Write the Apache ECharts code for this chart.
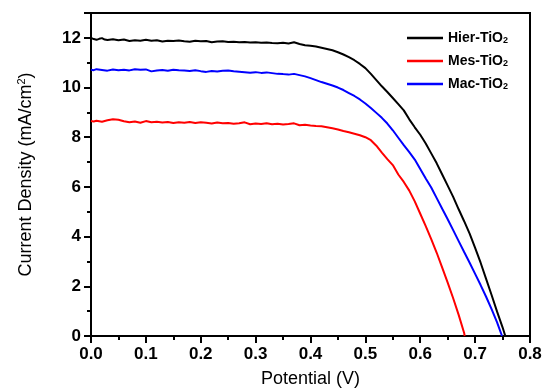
<!DOCTYPE html>
<html><head><meta charset="utf-8">
<script src="https://cdn.jsdelivr.net/npm/echarts@6/dist/echarts.min.js"></script>
<style>html,body{margin:0;padding:0;background:#fff}#c{width:543px;height:389px}</style>
</head><body><div id="c"></div>
<script>
// Hier-TiO2 (black)
const hierV = [0.000,0.005,0.010,0.015,0.020,0.025,0.030,0.040,0.050,0.060,0.070,0.080,0.090,0.100,0.110,0.120,0.130,0.140,0.150,0.160,0.170,0.180,0.190,0.200,0.210,0.220,0.230,0.240,0.250,0.260,0.270,0.280,0.290,0.300,0.310,0.320,0.330,0.340,0.350,0.360,0.370,0.380,0.390,0.400,0.410,0.420,0.430,0.440,0.450,0.460,0.470,0.480,0.490,0.500,0.510,0.520,0.530,0.540,0.550,0.560,0.570,0.580,0.590,0.600,0.610,0.620,0.630,0.640,0.650,0.660,0.670,0.680,0.690,0.700,0.710,0.720,0.730,0.740,0.750,0.755];
const hierJ = [12.00,11.95,11.92,11.96,11.99,11.93,11.91,11.94,11.90,11.93,11.87,11.90,11.88,11.92,11.88,11.90,11.85,11.88,11.87,11.89,11.86,11.84,11.88,11.86,11.87,11.82,11.85,11.86,11.83,11.84,11.82,11.83,11.81,11.82,11.80,11.81,11.79,11.78,11.80,11.77,11.82,11.75,11.70,11.68,11.65,11.60,11.55,11.50,11.42,11.33,11.22,11.10,10.95,10.78,10.55,10.30,10.05,9.82,9.58,9.33,9.08,8.72,8.40,8.10,7.75,7.35,6.95,6.50,6.05,5.60,5.10,4.62,4.12,3.55,2.95,2.30,1.65,0.98,0.35,0.00];
// Mes-TiO2 (red)
const mesV = [0.000,0.005,0.010,0.020,0.030,0.040,0.050,0.060,0.070,0.080,0.090,0.100,0.110,0.120,0.130,0.140,0.150,0.160,0.170,0.180,0.190,0.200,0.210,0.220,0.230,0.240,0.250,0.260,0.270,0.280,0.290,0.300,0.310,0.320,0.330,0.340,0.350,0.360,0.370,0.380,0.390,0.400,0.410,0.420,0.430,0.440,0.450,0.460,0.470,0.480,0.490,0.500,0.510,0.520,0.530,0.540,0.550,0.560,0.570,0.580,0.590,0.600,0.610,0.620,0.630,0.640,0.650,0.660,0.670,0.680,0.681];
const mesJ = [8.65,8.63,8.66,8.62,8.68,8.72,8.70,8.64,8.60,8.63,8.58,8.65,8.60,8.62,8.59,8.61,8.57,8.60,8.58,8.61,8.57,8.60,8.58,8.55,8.59,8.56,8.57,8.54,8.56,8.60,8.52,8.55,8.53,8.56,8.52,8.54,8.51,8.53,8.56,8.48,8.50,8.47,8.45,8.44,8.40,8.36,8.31,8.25,8.20,8.14,8.08,8.00,7.88,7.66,7.38,7.12,6.88,6.50,6.20,5.85,5.42,4.92,4.42,3.90,3.35,2.75,2.15,1.52,0.85,0.12,0.00];
// Mac-TiO2 (blue)
const macV = [0.000,0.005,0.010,0.020,0.030,0.040,0.050,0.060,0.070,0.080,0.090,0.100,0.110,0.120,0.130,0.140,0.150,0.160,0.170,0.180,0.190,0.200,0.210,0.220,0.230,0.240,0.250,0.260,0.270,0.280,0.290,0.300,0.310,0.320,0.330,0.340,0.350,0.360,0.370,0.380,0.390,0.400,0.410,0.420,0.430,0.440,0.450,0.460,0.470,0.480,0.490,0.500,0.510,0.520,0.530,0.540,0.550,0.560,0.570,0.580,0.590,0.600,0.610,0.620,0.630,0.640,0.650,0.660,0.670,0.680,0.690,0.700,0.710,0.720,0.730,0.740,0.749];
const macJ = [10.72,10.70,10.74,10.71,10.68,10.73,10.70,10.72,10.69,10.74,10.72,10.73,10.65,10.69,10.71,10.68,10.72,10.70,10.69,10.67,10.70,10.66,10.63,10.67,10.65,10.68,10.69,10.66,10.64,10.62,10.60,10.62,10.59,10.61,10.58,10.55,10.54,10.52,10.55,10.50,10.45,10.38,10.30,10.22,10.15,10.08,10.00,9.90,9.78,9.66,9.52,9.36,9.18,8.98,8.78,8.55,8.28,7.98,7.68,7.40,7.10,6.72,6.34,5.98,5.55,5.12,4.70,4.26,3.82,3.38,2.95,2.50,2.05,1.58,1.08,0.55,0.00];

const seriesNames = ['Hier-TiO2','Mes-TiO2','Mac-TiO2'];
const xTicks = [0,0.1,0.2,0.3,0.4,0.5,0.6,0.7,0.8];
const yTicks = [0,2,4,6,8,10,12];

const zip = (a,b) => a.map((v,i)=>[v,b[i]]);
const FONT = "'Liberation Sans', Arial, sans-serif";
const chart = echarts.init(document.getElementById('c'), null, {renderer:'canvas'});
const mk = (name, v, j, color) => ({
  name, type:'line', data: zip(v,j), symbol:'none', showSymbol:false,
  lineStyle:{color, width:2}, itemStyle:{color}, animation:false
});
chart.setOption({
  backgroundColor:'#fff',
  animation:false,
  grid:{left:91, right:13, top:13, bottom:53, show:true, borderColor:'#000', borderWidth:2, backgroundColor:'transparent', containLabel:false, outerBoundsMode:'none'},
  legend:{
    orient:'vertical', left:402, top:22, itemWidth:36, itemHeight:2.5, itemGap:5, icon:'rect',
    data: seriesNames,
    formatter: n => '{b|' + n.slice(0,-1) + '}{s|2}',
    textStyle:{
      rich:{
        b:{fontFamily:FONT, fontWeight:'bold', fontSize:14, color:'#000', lineHeight:14},
        s:{fontFamily:FONT, fontWeight:'bold', fontSize:9, color:'#000', lineHeight:14, verticalAlign:'bottom', padding:[9,0,0,0]}
      }
    }
  },
  xAxis:{
    type:'value', min:0, max:0.8, interval:0.1,
    name:'Potential (V)', nameLocation:'middle', nameGap:34,
    nameTextStyle:{fontFamily:FONT, fontSize:18, color:'#000'},
    axisLine:{show:true, lineStyle:{color:'#000', width:2}},
    axisTick:{show:true, inside:false, length:7, lineStyle:{color:'#000', width:2}},
    minorTick:{show:true, splitNumber:2, length:4, lineStyle:{color:'#000', width:2}},
    splitLine:{show:false},
    axisLabel:{margin:10, fontFamily:FONT, fontWeight:'bold', fontSize:17, color:'#000',
      formatter: v => xTicks.some(t=>Math.abs(t-v)<1e-9) ? v.toFixed(1) : ''}
  },
  yAxis:{
    type:'value', min:0, max:13, interval:2,
    name:'{a|Current Density (mA/cm}{s|2}{a|)}', nameLocation:'middle', nameGap:55, nameRotate:90,
    nameTextStyle:{
      rich:{
        a:{fontFamily:FONT, fontSize:18, color:'#000', lineHeight:20},
        s:{fontFamily:FONT, fontSize:11, color:'#000', lineHeight:20, verticalAlign:'top', padding:[0,0,8,0]}
      }
    },
    axisLine:{show:true, lineStyle:{color:'#000', width:2}},
    axisTick:{show:true, inside:false, length:7, lineStyle:{color:'#000', width:2}},
    minorTick:{show:true, splitNumber:2, length:4, lineStyle:{color:'#000', width:2}},
    splitLine:{show:false},
    axisLabel:{margin:10, fontFamily:FONT, fontWeight:'bold', fontSize:17, color:'#000',
      formatter: v => yTicks.includes(v) ? String(v) : ''}
  },
  series:[
    mk(seriesNames[0], hierV, hierJ, '#000000'),
    mk(seriesNames[1], mesV, mesJ, '#ff0000'),
    mk(seriesNames[2], macV, macJ, '#0000ff')
  ]
});
</script></body></html>
